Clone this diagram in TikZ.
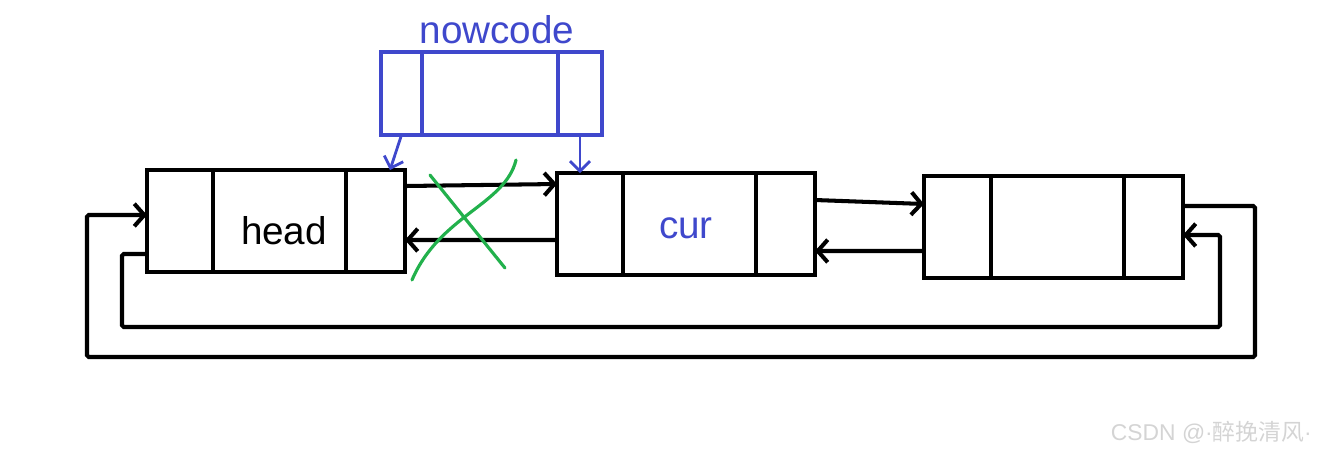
\documentclass[tikz,border=0pt]{standalone}
\usepackage{fontspec}
\setmainfont{Liberation Sans}
\newfontfamily\cjk{Noto Sans CJK SC}
\usetikzlibrary{arrows.meta,positioning,calc}
\definecolor{penblue}{HTML}{3F48CC}
\definecolor{pengreen}{HTML}{22B14C}
\definecolor{ink}{HTML}{000000}
\definecolor{mark}{HTML}{D4D4D4}
\tikzset{
  cell/.style={draw=ink,line width=2.3pt,inner sep=0pt,outer sep=0pt,
    minimum height=2.04cm},
  sidecell/.style={cell,minimum width=1.32cm},
  datacell/.style={cell,minimum width=2.66cm},
  nextcell/.style={cell,minimum width=1.18cm},
  newcell/.style={draw=penblue,line width=2.3pt,inner sep=0pt,outer sep=0pt,
    minimum height=1.66cm},
  link/.style={-{Straight Barb[length=2mm,width=4.5mm]},draw=ink,line width=2.3pt},
  loop/.style={link,rounded corners=1pt},
  blink/.style={-{Straight Barb[length=2mm,width=4mm]},draw=penblue,line width=1.6pt},
  cross/.style={draw=pengreen,line width=1.8pt,line cap=round},
  bigtext/.style={font=\fontsize{22}{26}\selectfont},
}

\begin{document}
\begin{tikzpicture}[x=0.02cm,y=-0.02cm]
\useasboundingbox (0,0) rectangle (1322,454);

% list nodes
\node[sidecell] (hprev) at (180,221) {};
\node[datacell] (hdata) at (279.5,221) {};
\node[nextcell] (hnext) at (375.5,221) {};
\node[bigtext] at (284,231) {head};

\node[sidecell] (cprev) at (590,224) {};
\node[datacell] (cdata) at (689.5,224) {};
\node[nextcell] (cnext) at (785.5,224) {};
\node[bigtext,text=penblue] at (686,228) {cur};

\node[sidecell,minimum width=1.34cm] (tprev) at (957.5,227) {};
\node[datacell] (tdata) at (1057.5,227) {};
\node[nextcell] (tnext) at (1153.5,227) {};

% new node
\node[newcell,minimum width=0.82cm] (nprev) at (401.5,93.5) {};
\node[newcell,minimum width=2.72cm] (ndata) at (490,93.5) {};
\node[newcell,minimum width=0.88cm] (nnext) at (580,93.5) {};
\node[bigtext,text=penblue] at (497,30) {nowcode};

% links between neighbours
\draw[link] ([yshift=.7cm]hnext.east) -- ([yshift=.8cm]cprev.west);
\draw[link] ([yshift=-.32cm]cprev.west) -- ([yshift=-.38cm]hnext.east);
\draw[link] ([yshift=.48cm]cnext.east) -- ([yshift=.46cm]tprev.west);
\draw[link] ([yshift=-.48cm]tprev.west) -- ([yshift=-.54cm]cnext.east);

% circular links
\coordinate (outerR) at (1255,357);
\coordinate (outerL) at (87,357);
\coordinate (innerR) at (1220,327);
\coordinate (innerL) at (122,327);
\draw[loop] ([yshift=.42cm]tnext.east) -| (outerR) -- (outerL)
  |- ([yshift=.12cm]hprev.west);
\draw[loop] ([yshift=-.66cm]hprev.west) -| (innerL) -- (innerR)
  |- ([yshift=-.16cm]tnext.east);

% new links
\draw[blink] (nprev.south) -- ([xshift=-.3cm]hnext.north east);
\draw[blink] (nnext.south) -- (nnext.south |- cprev.north);

% removed links
\draw[cross] (430,175) -- (505,268);
\draw[cross] (516,160) .. controls (505,205) and (440,215) .. (412,280);

\node[text=mark,font=\fontsize{13}{15}\selectfont,anchor=east] (wm) at (1318,432)
  {CSDN @·{\cjk 醉挽清风}·};
\end{tikzpicture}
\end{document}
